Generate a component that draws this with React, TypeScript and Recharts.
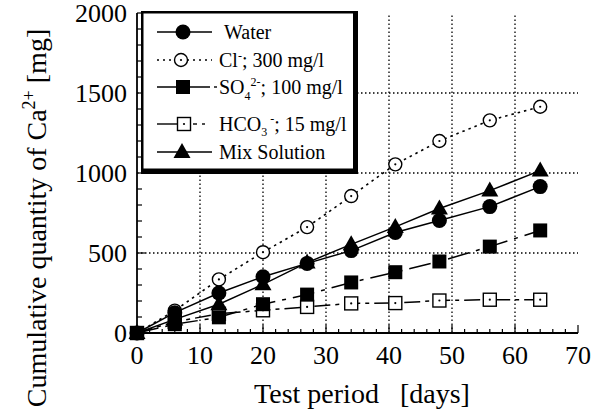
import React from 'react';
import { LineChart, Line, XAxis, YAxis, ReferenceLine } from 'recharts';

const days = [0, 6, 13, 20, 27, 34, 41, 48, 56, 64];
const water = [0, 127, 250, 352, 435, 515, 628, 703, 790, 915];
const chloride = [0, 140, 335, 505, 662, 856, 1054, 1200, 1329, 1414];
const sulfate = [0, 55, 98, 180, 240, 316, 380, 447, 540, 641];
const bicarbonate = [0, 70, 120, 142, 163, 185, 187, 203, 208, 208];
const mixSolution = [0, 85, 180, 304, 440, 554, 663, 778, 890, 1015];

const xTicks = [0, 2, 4, 6, 8, 10, 12, 14, 16, 18, 20, 22, 24, 26, 28, 30, 32, 34, 36, 38, 40, 42, 44, 46, 48, 50, 52, 54, 56, 58, 60, 62, 64, 66, 68, 70];
const yTicks = [0, 100, 200, 300, 400, 500, 600, 700, 800, 900, 1000, 1100, 1200, 1300, 1400, 1500, 1600, 1700, 1800, 1900, 2000];
const xMajor = [0, 10, 20, 30, 40, 50, 60, 70];
const yMajor = [0, 500, 1000, 1500, 2000];
const xGrid = [10, 20, 30, 40, 50, 60];
const yGrid = [500, 1000, 1500];

const xTitle = 'Test period\u00a0\u00a0\u00a0[days]';

const data = days.map((d, i) => ({
  day: d,
  water: water[i],
  cl: chloride[i],
  so4: sulfate[i],
  hco3: bicarbonate[i],
  mix: mixSolution[i],
}));

const FONT = "'Liberation Serif', 'Times New Roman', serif";

type Kind = 'fcircle' | 'ocircle' | 'fsquare' | 'osquare' | 'triangle';

const Marker = ({ kind, cx, cy }: { kind: Kind; cx: number; cy: number }) => {
  switch (kind) {
    case 'fcircle':
      return <circle cx={cx} cy={cy} r={7.5} fill="#000" />;
    case 'ocircle':
      return (
        <g>
          <circle cx={cx} cy={cy} r={6.5} fill="#fff" stroke="#000" strokeWidth={1.4} />
          <circle cx={cx} cy={cy} r={1.1} fill="#000" />
        </g>
      );
    case 'fsquare':
      return <rect x={cx - 7} y={cy - 7} width={14} height={14} fill="#000" />;
    case 'osquare':
      return (
        <g>
          <rect x={cx - 6.5} y={cy - 6.5} width={13} height={13} fill="#fff" stroke="#000" strokeWidth={1.4} />
          <circle cx={cx} cy={cy} r={1.1} fill="#000" />
        </g>
      );
    case 'triangle':
    default:
      return <polygon points={`${cx},${cy - 9} ${cx + 8.5},${cy + 6} ${cx - 8.5},${cy + 6}`} fill="#000" />;
  }
};

const makeDot = (kind: Kind) => (props: any) => {
  const { cx, cy, index } = props;
  if (cx == null || cy == null) return <g key={`n${index}`} />;
  return <Marker key={`${kind}${index}`} kind={kind} cx={cx} cy={cy} />;
};

const BottomTick = (props: any) => {
  const { x, y, payload } = props;
  const v = payload.value;
  const major = xMajor.includes(v);
  return (
    <g>
      <line x1={x} x2={x} y1={y} y2={y - (major ? 8 : 4)} stroke="#000" strokeWidth={1.2} />
      {major && (
        <text x={x} y={y + 31} textAnchor="middle" fontFamily={FONT} fontSize={26} fill="#000">
          {v}
        </text>
      )}
    </g>
  );
};

const TopTick = (props: any) => {
  const { x, y, payload } = props;
  const major = xMajor.includes(payload.value);
  return <line x1={x} x2={x} y1={y} y2={y + (major ? 8 : 4)} stroke="#000" strokeWidth={1.2} />;
};

const LeftTick = (props: any) => {
  const { x, y, payload } = props;
  const v = payload.value;
  const major = yMajor.includes(v);
  return (
    <g>
      <line x1={x} x2={x + (major ? 8 : 5)} y1={y} y2={y} stroke="#000" strokeWidth={1.2} />
      {major && (
        <text x={x - 10} y={y + 9} textAnchor="end" fontFamily={FONT} fontSize={26} fill="#000">
          {v}
        </text>
      )}
    </g>
  );
};

const RightTick = (props: any) => {
  const { x, y, payload } = props;
  const major = yMajor.includes(payload.value);
  return <line x1={x} x2={x - (major ? 8 : 5)} y1={y} y2={y} stroke="#000" strokeWidth={1.2} />;
};

const YTitle = () => (
  <text
    transform="translate(46,218) rotate(-90)"
    textAnchor="middle"
    fontFamily={FONT}
    fontSize={28}
    fill="#000"
  >
    Cumulative quantity of Ca
    <tspan fontSize={18} dy={-11}>2+</tspan>
    <tspan dy={11}> [mg]</tspan>
  </text>
);

const XTitle = () => (
  <text x={362} y={403} textAnchor="middle" fontFamily={FONT} fontSize={28} fill="#000">
    {xTitle}
  </text>
);

const legendItems: { kind: Kind; label: React.ReactNode; dash: string }[] = [
  { kind: 'fcircle', label: 'Water', dash: '' },
  {
    kind: 'ocircle',
    label: (
      <>
        Cl<tspan fontSize={12} dy={-7}>-</tspan>
        <tspan dy={7}>; 300 mg/l</tspan>
      </>
    ),
    dash: '2 4',
  },
  {
    kind: 'fsquare',
    label: (
      <>
        SO<tspan fontSize={12} dy={6}>4</tspan>
        <tspan fontSize={12} dy={-14}>2-</tspan>
        <tspan dy={8}>; 100 mg/l</tspan>
      </>
    ),
    dash: '',
  },
  {
    kind: 'osquare',
    label: (
      <>
        HCO<tspan fontSize={12} dy={5}>3</tspan>
        <tspan fontSize={12} dy={-13}> -</tspan>
        <tspan dy={8}>; 15 mg/l</tspan>
      </>
    ),
    dash: '',
  },
  { kind: 'triangle', label: 'Mix Solution', dash: '' },
];
const legendRowY = [21, 49, 76, 113, 141];
const legendMarkerX = [42, 40, 42, 43, 41];

const LegendBox = () => (
  <svg
    width={217}
    height={163}
    style={{ position: 'absolute', left: 141, top: 11 }}
  >
    <rect x={0} y={0} width={217} height={163} fill="#000" />
    <rect x={2.5} y={2.5} width={209.5} height={155} fill="#fff" />
    {legendItems.map((it, i) => {
      const cy = legendRowY[i];
      const mx = legendMarkerX[i];
      return (
        <g key={i}>
          {it.kind === 'fsquare' && (
            <g>
              <line x1={16} x2={69} y1={cy} y2={cy} stroke="#000" strokeWidth={1.4} />
              <line x1={73} x2={76} y1={cy} y2={cy} stroke="#000" strokeWidth={1.4} />
            </g>
          )}
          {it.kind === 'osquare' && (
            <g>
              <line x1={16} x2={37} y1={cy} y2={cy} stroke="#000" strokeWidth={1.4} />
              <line x1={52} x2={56} y1={cy} y2={cy} stroke="#000" strokeWidth={1.4} />
              <line x1={61} x2={64} y1={cy} y2={cy} stroke="#000" strokeWidth={1.4} />
            </g>
          )}
          {(it.kind === 'fcircle' || it.kind === 'triangle' || it.kind === 'ocircle') && (
            <line
              x1={16}
              x2={71}
              y1={cy}
              y2={cy}
              stroke="#000"
              strokeWidth={1.4}
              strokeDasharray={it.dash || undefined}
            />
          )}
          <Marker kind={it.kind} cx={mx} cy={cy} />
          <text
            x={i === 0 ? 83 : 78}
            y={cy + 7}
            fontFamily={FONT}
            fontSize={20}
            fill="#000"
          >
            {it.label}
          </text>
        </g>
      );
    })}
  </svg>
);

export default function App() {
  return (
    <div style={{ position: 'relative', width: 592, height: 417, background: '#fff' }}>
      <style>{`body{margin:0;background:#fff}`}</style>
      <LineChart
        width={592}
        height={417}
        data={data}
        margin={{ top: 13, right: 14, left: 0, bottom: 0 }}
      >
        <XAxis
          xAxisId="b"
          dataKey="day"
          type="number"
          domain={[0, 70]}
          ticks={xTicks}
          interval={0}
          tickSize={0}
          tickMargin={0}
          height={84}
          axisLine={{ stroke: '#000', strokeWidth: 1.8 }}
          tickLine={false}
          tick={<BottomTick />}
          label={{ content: () => <XTitle /> }}
        />
        <XAxis
          xAxisId="t"
          orientation="top"
          dataKey="day"
          type="number"
          domain={[0, 70]}
          ticks={xTicks}
          interval={0}
          tickSize={0}
          tickMargin={0}
          height={0}
          axisLine={{ stroke: '#000', strokeWidth: 1.8 }}
          tickLine={false}
          tick={<TopTick />}
        />
        <YAxis
          yAxisId="l"
          type="number"
          domain={[0, 2000]}
          ticks={yTicks}
          interval={0}
          tickSize={0}
          tickMargin={0}
          width={137}
          axisLine={{ stroke: '#000', strokeWidth: 1.8 }}
          tickLine={false}
          tick={<LeftTick />}
          label={{ content: () => <YTitle /> }}
        />
        <YAxis
          yAxisId="r"
          orientation="right"
          type="number"
          domain={[0, 2000]}
          ticks={yTicks}
          interval={0}
          tickSize={0}
          tickMargin={0}
          width={0}
          axisLine={{ stroke: '#000', strokeWidth: 1.8 }}
          tickLine={false}
          tick={<RightTick />}
        />
        {xGrid.map((v) => (
          <ReferenceLine key={`gx${v}`} x={v} xAxisId="b" yAxisId="l" stroke="#000" strokeWidth={1.3} strokeDasharray="1.5 2.5" />
        ))}
        {yGrid.map((v) => (
          <ReferenceLine key={`gy${v}`} y={v} xAxisId="b" yAxisId="l" stroke="#000" strokeWidth={1.3} strokeDasharray="1.5 2.5" />
        ))}
        <Line xAxisId="b" yAxisId="l" dataKey="hco3" stroke="#000" strokeWidth={1.5} strokeDasharray="16 5 4 5" dot={makeDot('osquare')} isAnimationActive={false} />
        <Line xAxisId="b" yAxisId="l" dataKey="cl" stroke="#000" strokeWidth={1.6} strokeDasharray="2.5 4" dot={makeDot('ocircle')} isAnimationActive={false} />
        <Line xAxisId="b" yAxisId="l" dataKey="water" stroke="#000" strokeWidth={1.5} dot={makeDot('fcircle')} isAnimationActive={false} />
        <Line xAxisId="b" yAxisId="l" dataKey="mix" stroke="#000" strokeWidth={1.5} dot={makeDot('triangle')} isAnimationActive={false} />
        <Line xAxisId="b" yAxisId="l" dataKey="so4" stroke="#000" strokeWidth={1.5} strokeDasharray="22 7 4 7" dot={makeDot('fsquare')} isAnimationActive={false} />
      </LineChart>
      <LegendBox />
    </div>
  );
}
